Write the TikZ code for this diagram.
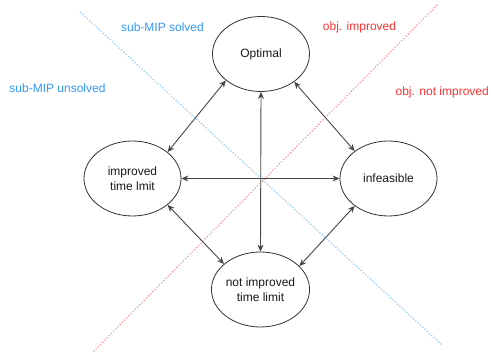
\documentclass[tikz,border=0pt]{standalone}
\usepackage{fontspec}
\setmainfont{Liberation Sans}
\usetikzlibrary{shapes.geometric,arrows.meta}
\definecolor{lblue}{HTML}{3399FF}
\definecolor{lred}{HTML}{FF3333}
\definecolor{dblue}{HTML}{7FBFFF}
\definecolor{dred}{HTML}{FF8080}
\definecolor{edge}{HTML}{333333}
\tikzset{
  state/.style={ellipse,draw=edge,line width=0.8pt,minimum width=97pt,minimum height=75pt,inner sep=0pt,align=center,font=\fontsize{12}{14.5}\selectfont,text=black!90},
  conn/.style={draw=edge!90,line width=0.9pt,{Stealth[length=7pt,width=6pt]}-{Stealth[length=7pt,width=6pt]}},
  region/.style={font=\fontsize{12}{14}\selectfont,inner sep=0pt},
  divider/.style={line width=1.1pt,dotted}
}
\begin{document}
\begin{tikzpicture}[x=1pt,y=-1pt]
\useasboundingbox (0,0) rectangle (491,352);
\clip (0,0) rectangle (491,352);
\fill[white] (0,0) rectangle (491,352);
\coordinate (b1) at (80,12);
\coordinate (b2) at (442,345);
\coordinate (r1) at (437,5);
\coordinate (r2) at (92,353);
\draw[divider,dblue] (b1) -- (b2);
\draw[divider,dred] (r1) -- (r2);
\node[state] (opt) at (261,54) {Optimal};
\node[state] (imp) at (132.5,178.5) {improved\\time lmit};
\node[state] (inf) at (388.5,178.5) {infeasible};
\node[state] (nim) at (260.5,289.5) {not improved\\time limit};
\draw[conn] (opt.south) -- (nim.north);
\draw[conn] (imp.east) -- (inf.west);
\draw[conn] (opt.217) -- (imp.37);
\draw[conn] (opt.320) -- (inf.141);
\draw[conn] (imp.323) -- (nim.145);
\draw[conn] (inf.219) -- (nim.31);
\node[region,text=lblue] (t1) at (162.5,27) {sub-MIP solved};
\node[region,text=lblue] (t2) at (57.5,88) {sub-MIP unsolved};
\node[region,text=lred] (t3) at (359.5,27) {obj. improved};
\node[region,text=lred,anchor=east] (t4) at (489,92) {obj. not improved};
\end{tikzpicture}
\end{document}
